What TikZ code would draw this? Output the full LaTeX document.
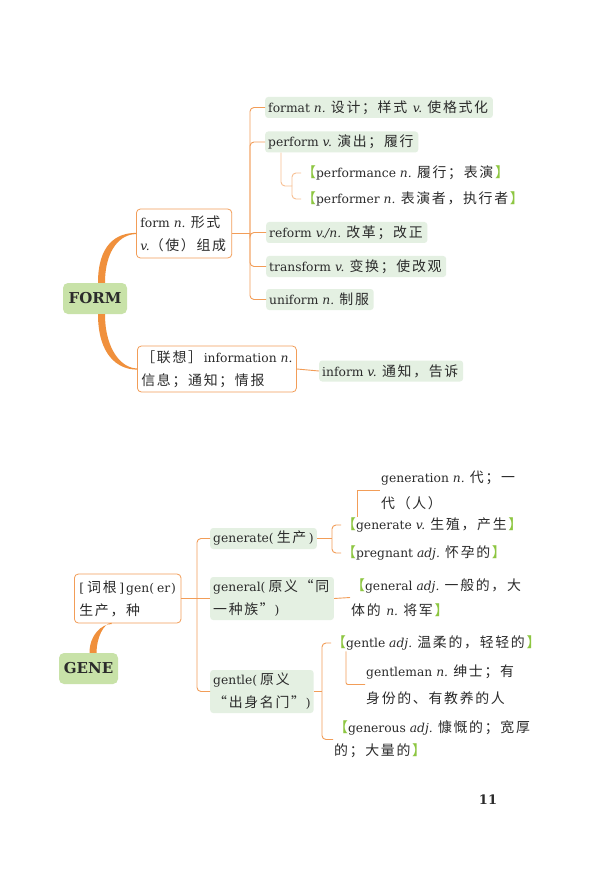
\documentclass[tikz,border=0pt]{standalone}
\usepackage{fontspec}
\setmainfont{DejaVu Serif}
\newfontfamily\cjk[Scale=1.13]{Noto Sans CJK SC}
\newcommand\zhkern{1.7pt}
\def\zhloop#1{\ifx#1\relax\else#1\kern\zhkern\expandafter\zhloop\fi}
\newcommand\zh[1]{{\cjk\zhloop#1\relax}}
\definecolor{lineor}{HTML}{F29D58}
\definecolor{curveor}{HTML}{F0903C}
\definecolor{keygreen}{HTML}{C8E2A8}
\definecolor{entrygreen}{HTML}{E4F0E2}
\definecolor{brkgreen}{HTML}{8DC641}
\definecolor{txt}{HTML}{2B2B2B}
\newcommand\lb{{\color{brkgreen}\cjk 【}}
\newcommand\rb{{\color{brkgreen}\cjk 】}}
\tikzset{
  conn/.style={draw=lineor, line width=0.9pt},
  subconn/.style={draw=lineor!65, line width=0.9pt},
  keybox/.style={fill=keygreen, rounded corners=5pt, inner sep=2pt,
    font=\fontsize{15}{17}\selectfont\bfseries},
  rootbox/.style={draw=lineor, fill=white, rounded corners=4pt, line width=0.8pt,
    align=left, anchor=west, inner xsep=4pt, inner ysep=3pt},
  entry/.style={fill=entrygreen, rounded corners=3pt, anchor=west,
    inner xsep=3pt, inner ysep=2pt, minimum height=21pt, align=left},
  note/.style={anchor=west, align=left, inner sep=1pt},
}
\begin{document}
\begin{tikzpicture}[x=1pt, y=-1pt, font=\fontsize{12.3}{23}\selectfont, text=txt]
  \useasboundingbox (0,0) rectangle (591,874);
  \fill[white] (0,0) rectangle (591,874);

  % FORM
  \node[keybox, minimum width=64pt, minimum height=31pt] (FORM) at (95,298.5) {FORM};
  \node[rootbox, minimum height=49pt] (form) at (136,233.5)
    {form \textit{n.} \zh{形式}\\\textit{v.}\zh{（使）组成}};
  \node[rootbox, minimum height=46pt] (info) at (137,369)
    {\zh{［联想］}information \textit{n.}\\\zh{信息；通知；情报}};

  \node[entry] (format) at (265,107.5) {format \textit{n.} \zh{设计；样式} \textit{v.} \zh{使格式化}};
  \node[entry] (perform) at (265,142) {perform \textit{v.} \zh{演出；履行}};
  \node[note] (performance) at (301,173) {\lb performance \textit{n.} \zh{履行；表演}\rb};
  \node[note] (performer) at (301,199) {\lb performer \textit{n.} \zh{表演者，执行者}\rb};
  \node[entry] (reform) at (266,232.5) {reform \textit{v./n.} \zh{改革；改正}};
  \node[entry] (transform) at (266,266.5) {transform \textit{v.} \zh{变换；使改观}};
  \node[entry] (uniform) at (266,299.5) {uniform \textit{n.} \zh{制服}};
  \node[entry] (inform) at (319,371) {inform \textit{v.} \zh{通知，告诉}};

  \fill[curveor] ([xshift=3]FORM.north) .. controls +(0,-38) and +(-20,0) .. ([yshift=0.6]form.west)
    -- ([yshift=-0.6]form.west) .. controls +(-15,0) and +(0,-34) .. ([xshift=10]FORM.north) -- cycle;
  \fill[curveor] ([xshift=3]FORM.south) .. controls +(0,40) and +(-20,0) .. ([yshift=-0.6]info.west)
    -- ([yshift=0.6]info.west) .. controls +(-15,0) and +(0,36) .. ([xshift=10]FORM.south) -- cycle;

  \coordinate (fj) at (250,233.5);
  \draw[conn] (form.east) -- (fj);
  \foreach \n in {format,perform,reform,transform,uniform}
    \draw[conn, rounded corners=4pt] (fj) |- (\n.west);
  \draw[conn] (info.east) -- (inform.west);

  \coordinate (pa) at (281,0);
  \coordinate (pj) at (292,186);
  \draw[subconn, rounded corners=4pt] (perform.south -| pa) |- (pj);
  \draw[subconn, rounded corners=4pt] (pj) |- (performance.west);
  \draw[subconn, rounded corners=4pt] (pj) |- (performer.west);

  % GENE
  \node[keybox, minimum width=59pt, minimum height=31pt] (GENE) at (88.5,668.5) {GENE};
  \node[rootbox, minimum height=49pt, inner xsep=5pt] (root) at (74,598.5)
    {[\kern3pt\zh{词根}\kern1pt]\kern2pt gen(\kern3pt er\kern1pt)\\\zh{生产，种}};

  \node[entry] (generate) at (210,538.5) {generate(\kern3pt\zh{生产}\kern1pt)};
  \node[entry, minimum height=43pt] (general) at (210,598.5)
    {general(\kern3pt\zh{原义“同}\\\zh{一种族”}\kern-1pt)};
  \node[entry, minimum height=43pt] (gentle) at (210,691.5)
    {gentle(\kern3pt\zh{原义}\\\zh{“出身名门”}\kern-1pt)};

  \node[note] (generatev) at (341,525) {\lb generate \textit{v.} \zh{生殖，产生}\rb};
  \node[note] (pregnant) at (341,553) {\lb pregnant \textit{adj.} \zh{怀孕的}\rb};
  \node[note, font=\fontsize{12.3}{26}\selectfont] (generation) at (380,490)
    {generation \textit{n.} \zh{代；一}\\\zh{代（人）}};
  \node[note, font=\fontsize{12.3}{25}\selectfont] (generaladj) at (350,597.5)
    {\lb general \textit{adj.} \zh{一般的，大}\\\zh{体的} \textit{n.} \zh{将军}\rb};
  \node[note] (gentleadj) at (331,643) {\lb gentle \textit{adj.} \zh{温柔的，轻轻的}\rb};
  \node[note, font=\fontsize{12.3}{27}\selectfont] (gentleman) at (365,684.5)
    {gentleman \textit{n.} \zh{绅士；有}\\\zh{身份的、有教养的人}};
  \node[note] (generous) at (333,739.5)
    {\lb generous \textit{adj.} \zh{慷慨的；宽厚}\\\zh{的；大量的}\rb};

  \fill[curveor] ([xshift=1]GENE.north) .. controls +(0,-18) and +(-10,0) .. ([xshift=-16,yshift=-0.6]root.south)
    -- ([xshift=-16,yshift=0.6]root.south) .. controls +(-8,0) and +(0,-15) .. ([xshift=8]GENE.north) -- cycle;

  \coordinate (gj) at (197,598.5);
  \draw[conn] (root.east) -- (gj);
  \foreach \n in {generate,gentle}
    \draw[conn, rounded corners=4pt] (gj) |- (\n.west);
  \draw[conn] (gj) -- (general.west);

  \coordinate (g1j) at (332,538.5);
  \draw[conn] (generate.east) -- (g1j);
  \draw[conn, rounded corners=4pt] (g1j) |- (generatev.west);
  \draw[conn, rounded corners=4pt] (g1j) |- (pregnant.west);
  \coordinate (ga) at (357,0);
  \draw[conn] (generatev.north -| ga) |- (generation.west);

  \draw[conn] (general.east) -- (generaladj.west);

  \coordinate (g3j) at (322,691.5);
  \draw[conn] (gentle.east) -- (g3j);
  \draw[conn, rounded corners=4pt] (g3j) |- (gentleadj.west);
  \draw[conn, rounded corners=4pt] (g3j) |- (generous.west);
  \coordinate (gb) at (346,0);
  \draw[conn, rounded corners=2pt] (gentleadj.south -| gb) |- (gentleman.west);

  \node (pagenum) at (488,800) {\fontsize{13}{16}\selectfont\bfseries 11};
\end{tikzpicture}
\end{document}
